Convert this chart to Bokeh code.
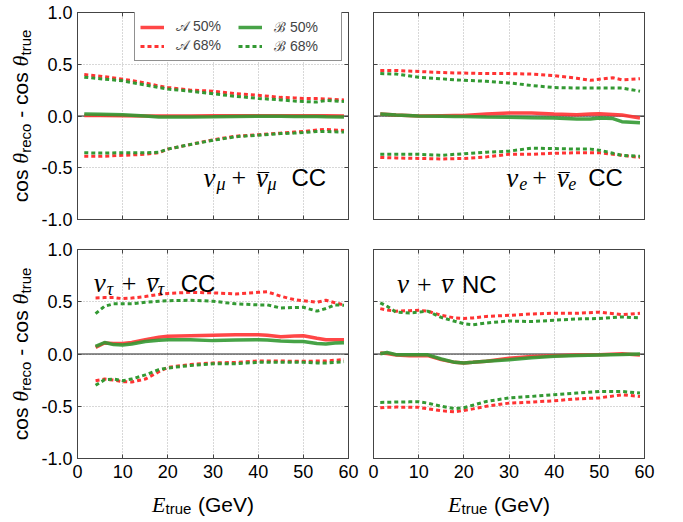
import numpy as np
from bokeh.plotting import figure
from bokeh.models import LinearAxis, FixedTicker, Span, Label, Legend, LegendItem, Range1d
from bokeh.layouts import column, row
from bokeh.embed import file_html
from bokeh.resources import INLINE

RED = "#ff3333"
GREEN = "#339933"
SANS = "Liberation Sans"
SERIF = "Liberation Serif"

x_ticks = [0, 10, 20, 30, 40, 50, 60]
y_ticks = [-1.0, -0.5, 0.0, 0.5, 1.0]
y_tick_labels = {-1.0: "-1.0", -0.5: "-0.5", 0.0: "0.0", 0.5: "0.5", 1.0: "1.0"}
legend_labels = ["\U0001D49C 50%", "\U0001D49C 68%", "\u212C 50%", "\u212C 68%"]

# ---- numu CC (top-left) ----
mu_x = [1.5, 5, 10, 15, 18, 20, 25, 30, 35, 40, 45, 48, 50, 53, 55, 59]
mu_A68_up = [0.40, 0.385, 0.356, 0.32, 0.29, 0.276, 0.25, 0.24, 0.215, 0.20, 0.18, 0.175, 0.17, 0.168, 0.165, 0.155]
mu_B68_up = [0.375, 0.36, 0.34, 0.30, 0.275, 0.26, 0.24, 0.215, 0.19, 0.17, 0.155, 0.145, 0.14, 0.135, 0.15, 0.14]
mu_A50 = [0.005, 0.005, 0.003, 0.0, 0.0, 0.0, 0.0, 0.002, 0.003, 0.003, 0.003, 0.003, 0.003, 0.003, 0.003, 0.0]
mu_B50 = [0.02, 0.018, 0.012, 0.0, -0.01, -0.01, -0.01, -0.008, -0.005, -0.003, -0.003, -0.005, -0.005, -0.005, -0.008, -0.01]
mu_A68_lo = [-0.39, -0.39, -0.38, -0.37, -0.355, -0.32, -0.275, -0.23, -0.195, -0.18, -0.165, -0.155, -0.15, -0.135, -0.13, -0.14]
mu_B68_lo = [-0.355, -0.358, -0.355, -0.355, -0.35, -0.32, -0.275, -0.235, -0.20, -0.185, -0.17, -0.165, -0.16, -0.15, -0.15, -0.155]

# ---- nue CC (top-right) ----
e_x = [1.5, 5, 10, 15, 18, 20, 25, 30, 35, 40, 45, 48, 50, 53, 55, 59]
e_A68_up = [0.44, 0.44, 0.43, 0.42, 0.415, 0.415, 0.41, 0.41, 0.405, 0.39, 0.365, 0.345, 0.355, 0.37, 0.35, 0.36]
e_B68_up = [0.41, 0.405, 0.375, 0.36, 0.35, 0.345, 0.335, 0.32, 0.295, 0.275, 0.27, 0.27, 0.27, 0.27, 0.27, 0.24]
e_A50 = [0.02, 0.01, 0.0, 0.003, 0.005, 0.005, 0.02, 0.03, 0.03, 0.02, 0.013, 0.02, 0.022, 0.015, 0.01, -0.02]
e_B50 = [0.02, 0.01, 0.0, -0.003, -0.005, -0.006, -0.01, -0.013, -0.017, -0.02, -0.03, -0.03, -0.02, -0.025, -0.055, -0.065]
e_A68_lo = [-0.40, -0.405, -0.41, -0.415, -0.412, -0.41, -0.395, -0.37, -0.37, -0.36, -0.355, -0.355, -0.355, -0.37, -0.38, -0.40]
e_B68_lo = [-0.37, -0.37, -0.37, -0.38, -0.37, -0.365, -0.35, -0.34, -0.31, -0.315, -0.32, -0.32, -0.33, -0.36, -0.38, -0.39]

# ---- nutau CC (bottom-left) ----
tau_x = [4, 6, 8, 10, 12, 15, 18, 20, 25, 30, 35, 40, 42, 45, 48, 50, 53, 55, 57, 59]
tau_A68_up = [0.537, 0.54, 0.54, 0.53, 0.535, 0.55, 0.57, 0.58, 0.59, 0.585, 0.575, 0.59, 0.595, 0.553, 0.52, 0.51, 0.495, 0.514, 0.49, 0.47]
tau_B68_up = [0.387, 0.457, 0.48, 0.48, 0.48, 0.495, 0.505, 0.51, 0.514, 0.505, 0.48, 0.47, 0.47, 0.44, 0.445, 0.447, 0.41, 0.435, 0.47, 0.467]
tau_A50 = [0.064, 0.105, 0.1, 0.1, 0.11, 0.137, 0.16, 0.17, 0.175, 0.18, 0.185, 0.185, 0.18, 0.165, 0.172, 0.175, 0.15, 0.137, 0.137, 0.137]
tau_B50 = [0.073, 0.11, 0.09, 0.086, 0.095, 0.12, 0.132, 0.137, 0.137, 0.128, 0.134, 0.137, 0.135, 0.125, 0.12, 0.12, 0.1, 0.096, 0.105, 0.108]
tau_A68_lo = [-0.255, -0.24, -0.25, -0.265, -0.268, -0.24, -0.17, -0.128, -0.10, -0.086, -0.08, -0.067, -0.067, -0.067, -0.07, -0.07, -0.068, -0.067, -0.06, -0.054]
tau_B68_lo = [-0.30, -0.246, -0.24, -0.255, -0.24, -0.2, -0.15, -0.134, -0.11, -0.093, -0.093, -0.08, -0.08, -0.08, -0.08, -0.08, -0.085, -0.086, -0.08, -0.073]

# ---- NC (bottom-right) ----
nc_x = [1.5, 3, 5, 8, 10, 12, 15, 18, 20, 22, 25, 30, 35, 40, 45, 50, 55, 59]
nc_A68_up = [0.434, 0.42, 0.41, 0.415, 0.418, 0.41, 0.37, 0.345, 0.34, 0.345, 0.36, 0.37, 0.383, 0.39, 0.39, 0.40, 0.377, 0.39]
nc_B68_up = [0.49, 0.457, 0.40, 0.393, 0.40, 0.41, 0.35, 0.313, 0.29, 0.28, 0.297, 0.316, 0.31, 0.323, 0.335, 0.34, 0.355, 0.345]
nc_A50 = [0.01, 0.005, -0.01, -0.016, -0.016, -0.016, -0.054, -0.08, -0.086, -0.08, -0.07, -0.04, -0.025, -0.016, -0.01, -0.006, 0.003, -0.01]
nc_B50 = [0.003, 0.015, -0.006, -0.006, -0.006, -0.008, -0.048, -0.08, -0.086, -0.08, -0.07, -0.054, -0.035, -0.022, -0.015, -0.01, -0.005, 0.0]
nc_A68_lo = [-0.514, -0.51, -0.508, -0.51, -0.51, -0.525, -0.543, -0.553, -0.54, -0.525, -0.50, -0.47, -0.46, -0.447, -0.43, -0.42, -0.39, -0.406]
nc_B68_lo = [-0.463, -0.462, -0.46, -0.458, -0.457, -0.47, -0.5, -0.524, -0.514, -0.49, -0.454, -0.42, -0.406, -0.39, -0.374, -0.358, -0.358, -0.374]

FRAME_C = "#444444"
FW = 271
YLAB_W = 37
LEFT_B = 40
BASE_FIX = 7  # baseline correction for rendered Label text (pixels)


def style_axis(ax, ticks, labels_on, overrides=None, standoff=5):
    ax.ticker = FixedTicker(ticks=ticks)
    ax.major_tick_in = 4
    ax.major_tick_out = 0
    ax.minor_tick_line_color = None
    ax.axis_line_color = FRAME_C
    ax.major_tick_line_color = FRAME_C
    ax.major_label_text_font = SANS
    if labels_on:
        ax.major_label_text_color = "black"
        ax.major_label_text_font_size = "18px"
        ax.major_label_standoff = standoff
        if overrides:
            ax.major_label_overrides = overrides
    else:
        ax.major_label_text_color = None
        ax.major_label_text_font_size = "1px"
        ax.major_label_standoff = 0


def make_panel(fh, l, r, t, b, xlab, ylab):
    p = figure(width=l + FW + r, height=t + fh + b, frame_width=FW, frame_height=fh,
               min_border_left=l, min_border_right=r, min_border_top=t, min_border_bottom=b,
               x_range=Range1d(0, 60), y_range=Range1d(-1, 1),
               output_backend="svg", toolbar_location=None, tools="")
    p.outline_line_color = FRAME_C
    p.outline_line_width = 1
    p.background_fill_color = "white"
    p.border_fill_color = "white"
    style_axis(p.xaxis[0], x_ticks, xlab, standoff=6)
    style_axis(p.yaxis[0], y_ticks, ylab, y_tick_labels, standoff=5)
    top = LinearAxis()
    style_axis(top, x_ticks, False)
    p.add_layout(top, "above")
    right = LinearAxis()
    style_axis(right, y_ticks, False)
    p.add_layout(right, "right")
    for g, tk in ((p.xgrid[0], x_ticks), (p.ygrid[0], y_ticks)):
        g.ticker = FixedTicker(ticks=tk)
        g.grid_line_color = "#b0b0b0"
        g.grid_line_dash = "1 2"
        g.grid_line_width = 1
    zero = Span(location=0, dimension="width", line_color="#222222", line_width=1, level="underlay")
    p.add_layout(zero)
    return p


def blank_fig(w, h):
    p = figure(width=w, height=h, frame_width=w, frame_height=h,
               min_border=0, x_axis_location=None, y_axis_location=None,
               x_range=Range1d(0, w), y_range=Range1d(0, h),
               output_backend="svg", toolbar_location=None, tools="")
    p.outline_line_color = None
    p.background_fill_color = "white"
    p.border_fill_color = "white"
    p.grid.visible = False
    return p


def draw(p, x, a50, a_up, a_lo, b50, b_up, b_lo):
    r = {}
    r["a50"] = p.line(x, a50, line_color=RED, line_width=3.5, line_alpha=0.9)
    r["a68"] = p.line(x, a_up, line_color=RED, line_width=3, line_dash="4 3")
    p.line(x, a_lo, line_color=RED, line_width=3, line_dash="4 3")
    r["b50"] = p.line(x, b50, line_color=GREEN, line_width=3.5, line_alpha=0.9)
    r["b68"] = p.line(x, b_up, line_color=GREEN, line_width=3, line_dash="4 3")
    p.line(x, b_lo, line_color=GREEN, line_width=3, line_dash="4 3")
    return r


def rich(p, x, y, pieces, units="data", angle=0.0):
    # pieces: (text, kind, size, dx, dy) ; dx along text direction, dy perpendicular (up)
    for text, kind, size, dx, dy in pieces:
        font = SANS if kind == "sans" else SERIF
        style = "italic" if kind == "ital" else "normal"
        dy = dy + BASE_FIX
        if angle == 0.0:
            xo, yo = dx, dy
        else:
            xo, yo = -dy, dx
        p.add_layout(Label(x=x, y=y, x_units=units, y_units=units, x_offset=xo, y_offset=yo,
                           text=text, text_font=font, text_font_style=style,
                           text_font_size=f"{size}px", text_baseline="alphabetic",
                           text_align="left", text_color="black", angle=angle))


def nu_label(sub, dx_sub, plus, nubar, dx_sub2, tail, dx_tail, subsize=18):
    pcs = [("\u03bd", "ital", 27, 0, 0)]
    if sub:
        pcs.append((sub, "ital", subsize, dx_sub, -6))
    pcs.append(("+", "serif", 26, plus, 0))
    pcs.append(("\u03bd", "ital", 27, nubar, 0))
    pcs.append(("\u00af", "serif", 22, nubar + 2, -3))
    if sub:
        pcs.append((sub, "ital", subsize, dx_sub2, -6))
    pcs.append((tail, "sans", 24, dx_tail, 0))
    return pcs


TOP_T = 12
TOP_H = 207
TOP_B = 15
BOT_T = 15
BOT_H = 209
BOT_B = 26
XLAB_H = 34

p1 = make_panel(TOP_H, LEFT_B, 12, TOP_T, TOP_B, False, True)
p2 = make_panel(TOP_H, 13, 14, TOP_T, TOP_B, False, False)
p3 = make_panel(BOT_H, LEFT_B, 12, BOT_T, BOT_B, True, True)
p4 = make_panel(BOT_H, 13, 14, BOT_T, BOT_B, True, False)

r1 = draw(p1, mu_x, mu_A50, mu_A68_up, mu_A68_lo, mu_B50, mu_B68_up, mu_B68_lo)
draw(p2, e_x, e_A50, e_A68_up, e_A68_lo, e_B50, e_B68_up, e_B68_lo)
draw(p3, tau_x, tau_A50, tau_A68_up, tau_A68_lo, tau_B50, tau_B68_up, tau_B68_lo)
draw(p4, nc_x, nc_A50, nc_A68_up, nc_A68_lo, nc_B50, nc_B68_up, nc_B68_lo)

legend = Legend(items=[LegendItem(label=legend_labels[0], renderers=[r1["a50"]]),
                       LegendItem(label=legend_labels[1], renderers=[r1["a68"]]),
                       LegendItem(label=legend_labels[2], renderers=[r1["b50"]]),
                       LegendItem(label=legend_labels[3], renderers=[r1["b68"]])],
                location=(57, 158), ncols=2,
                label_text_font=SANS, label_text_font_size="14px", label_text_line_height=1.0,
                glyph_width=24, glyph_height=14, label_height=14, label_width=62,
                label_standoff=12, padding=5, spacing=0, margin=0,
                border_line_color="#222222", border_line_width=1,
                background_fill_color="white", background_fill_alpha=1.0)
p1.add_layout(legend)

# panel labels
rich(p1, 27.9, -0.666, nu_label("\u03bc", 13, 28, 52.5, 64, "CC", 88))
rich(p2, 29.4, -0.666, nu_label("e", 13, 26, 50.5, 62, "CC", 82))
rich(p3, 3.6, 0.61, nu_label("\u03c4", 13, 28, 52.5, 64, "CC", 87))
rich(p4, 5.2, 0.60, nu_label(None, 0, 20, 44, 0, "NC", 65))

# y axis labels (rotated), in a separate strip figure
TOTAL_H = TOP_T + TOP_H + TOP_B + BOT_T + BOT_H + BOT_B
ylab = blank_fig(YLAB_W, TOTAL_H)
ylab_pieces = [("cos", "sans", 21, 0, 0), ("\u03b8", "ital", 22, 38.5, 0),
               ("reco", "sans", 15, 49.5, -5), ("- cos", "sans", 21, 84.5, 0),
               ("\u03b8", "ital", 22, 135.8, 0), ("true", "sans", 15, 146.8, -5)]
c1 = TOTAL_H - (TOP_T + TOP_H / 2)
c3 = TOTAL_H - (TOP_T + TOP_H + TOP_B + BOT_T + BOT_H / 2)
for c in (c1, c3):
    rich(ylab, 27, c - 86.3, ylab_pieces, units="screen", angle=np.pi / 2)

# x axis labels, in a separate strip figure
W_LEFT = LEFT_B + FW + 12
W_RIGHT = 13 + FW + 14
xlab = blank_fig(W_LEFT + W_RIGHT, XLAB_H)
xlab_pieces = [("E", "ital", 22, 0, 0), ("true", "sans", 15, 13.5, -4), ("(GeV)", "sans", 21, 46, 0)]
for cx in (LEFT_B + FW / 2, W_LEFT + 13 + FW / 2):
    rich(xlab, cx - 61, 7.5, xlab_pieces, units="screen")

grid = column(row(p1, p2), row(p3, p4), xlab)
layout = row(ylab, grid)
open("out.html", "w").write(file_html(layout, INLINE))
